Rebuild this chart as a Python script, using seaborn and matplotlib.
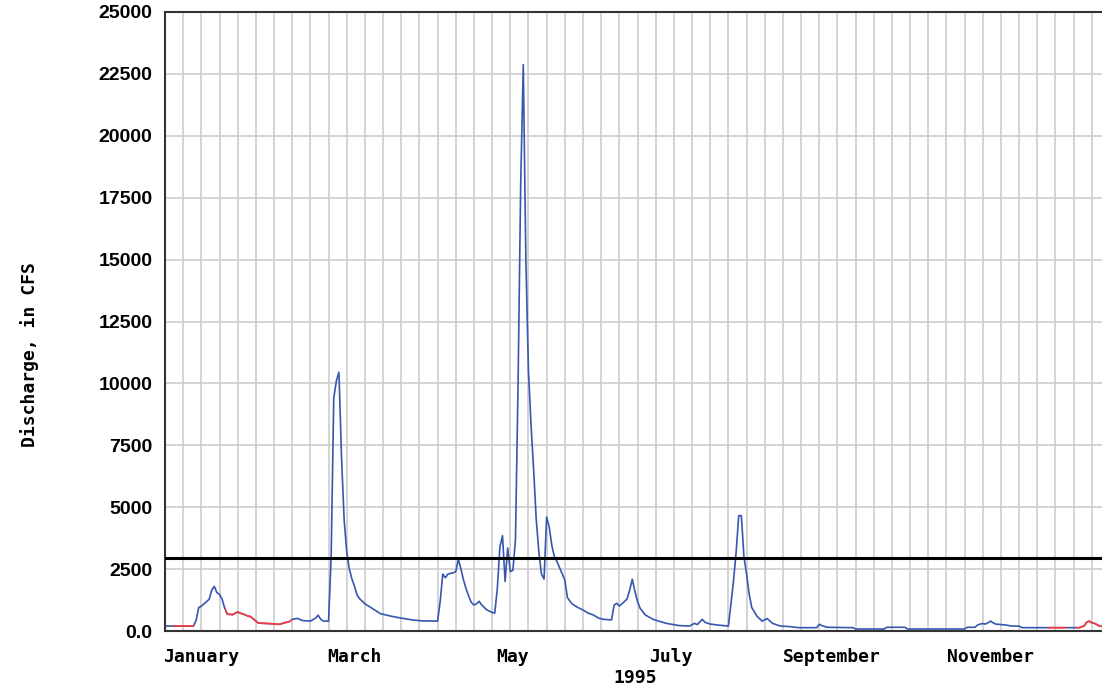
import pandas as pd
import seaborn as sns
import matplotlib.pyplot as plt
import matplotlib.dates as mdates
from matplotlib.patches import Rectangle

# daily discharge (breakpoints, CFS)
dates = [
    "1995-01-01", "1995-01-04", "1995-01-12", "1995-01-13", "1995-01-14", "1995-01-15",
    "1995-01-17", "1995-01-18", "1995-01-19", "1995-01-20", "1995-01-21", "1995-01-22",
    "1995-01-23", "1995-01-24", "1995-01-25", "1995-01-27", "1995-01-29", "1995-01-30",
    "1995-02-01", "1995-02-02", "1995-02-03", "1995-02-05", "1995-02-06", "1995-02-10",
    "1995-02-14", "1995-02-16", "1995-02-18", "1995-02-19", "1995-02-21", "1995-02-23",
    "1995-02-26", "1995-02-28", "1995-03-01", "1995-03-02", "1995-03-03", "1995-03-05",
    "1995-03-06", "1995-03-07", "1995-03-08", "1995-03-09", "1995-03-10", "1995-03-11",
    "1995-03-12", "1995-03-13", "1995-03-14", "1995-03-15", "1995-03-16", "1995-03-17",
    "1995-03-19", "1995-03-22", "1995-03-25", "1995-03-29", "1995-04-02", "1995-04-06",
    "1995-04-10", "1995-04-16", "1995-04-17", "1995-04-18", "1995-04-19", "1995-04-20",
    "1995-04-22", "1995-04-23", "1995-04-24", "1995-04-25", "1995-04-26", "1995-04-27",
    "1995-04-28", "1995-04-29", "1995-04-30", "1995-05-01", "1995-05-02", "1995-05-03",
    "1995-05-04", "1995-05-05", "1995-05-06", "1995-05-07", "1995-05-08", "1995-05-09",
    "1995-05-10", "1995-05-11", "1995-05-12", "1995-05-13", "1995-05-14", "1995-05-15",
    "1995-05-16", "1995-05-17", "1995-05-18", "1995-05-19", "1995-05-20", "1995-05-21",
    "1995-05-22", "1995-05-23", "1995-05-24", "1995-05-25", "1995-05-26", "1995-05-27",
    "1995-05-28", "1995-05-29", "1995-05-30", "1995-05-31", "1995-06-01", "1995-06-02",
    "1995-06-03", "1995-06-04", "1995-06-05", "1995-06-06", "1995-06-07", "1995-06-09",
    "1995-06-11", "1995-06-13", "1995-06-15", "1995-06-17", "1995-06-19", "1995-06-22",
    "1995-06-23", "1995-06-24", "1995-06-25", "1995-06-26", "1995-06-27", "1995-06-28",
    "1995-06-29", "1995-06-30", "1995-07-01", "1995-07-02", "1995-07-03", "1995-07-05",
    "1995-07-08", "1995-07-13", "1995-07-18", "1995-07-22", "1995-07-24", "1995-07-25",
    "1995-07-27", "1995-07-28", "1995-07-30", "1995-08-02", "1995-08-06", "1995-08-07",
    "1995-08-08", "1995-08-09", "1995-08-10", "1995-08-11", "1995-08-12", "1995-08-13",
    "1995-08-14", "1995-08-15", "1995-08-17", "1995-08-19", "1995-08-21", "1995-08-23",
    "1995-08-26", "1995-08-30", "1995-09-02", "1995-09-09", "1995-09-10", "1995-09-11",
    "1995-09-13", "1995-09-23", "1995-09-24", "1995-10-05", "1995-10-06", "1995-10-13",
    "1995-10-14", "1995-11-05", "1995-11-06", "1995-11-09", "1995-11-10", "1995-11-11",
    "1995-11-12", "1995-11-13", "1995-11-14", "1995-11-15", "1995-11-16", "1995-11-17",
    "1995-11-19", "1995-11-21", "1995-11-23", "1995-11-26", "1995-11-27", "1995-12-18",
    "1995-12-19", "1995-12-21", "1995-12-22", "1995-12-23", "1995-12-24", "1995-12-25",
    "1995-12-27", "1995-12-29", "1995-12-31",
]
discharge = [
    200, 200, 200, 440, 950, 1000,
    1190, 1280, 1650, 1800, 1550, 1480,
    1280, 920, 680, 660, 770, 720,
    650, 600, 580, 400, 320, 300,
    270, 330, 380, 470, 510, 420,
    400, 520, 640, 470, 400, 400,
    3000, 9400, 10100, 10450, 7000, 4500,
    3200, 2500, 2100, 1800, 1450, 1300,
    1100, 900, 700, 600, 520, 450,
    410, 400, 1200, 2300, 2150, 2300,
    2350, 2400, 2900, 2500, 2050, 1700,
    1400, 1150, 1050, 1100, 1200, 1050,
    950, 850, 800, 750, 720, 1700,
    3400, 3850, 2000, 3350, 2400, 2450,
    3700, 10000, 18000, 22870, 15000, 10500,
    8300, 6500, 4500, 3200, 2300, 2100,
    4600, 4200, 3450, 3000, 2800, 2550,
    2300, 2060, 1350, 1200, 1080, 950,
    850, 720, 650, 520, 470, 450,
    1050, 1120, 1010, 1100, 1190, 1300,
    1660, 2090, 1600, 1200, 920, 650,
    470, 310, 220, 200, 310, 260,
    470, 350, 280, 240, 200, 1100,
    2050, 3200, 4660, 4660, 3000, 2300,
    1500, 950, 600, 400, 500, 310,
    200, 175, 135, 135, 270, 220,
    150, 135, 80, 80, 150, 150,
    80, 80, 150, 150, 240, 280,
    300, 280, 330, 400, 330, 280,
    260, 240, 200, 200, 135, 135,
    130, 200, 350, 400, 330, 310,
    200, 170, 170,
]

# stretches drawn in red (estimated / ice-affected record)
red_periods = [
    ("1995-01-04", "1995-01-12"),
    ("1995-01-24", "1995-02-19"),
    ("1995-12-07", "1995-12-14"),
    ("1995-12-18", "1995-12-31"),
]

threshold = 2950

month_labels = ["January", "March", "May", "July", "September", "November"]
label_dates = ["1995-01-15", "1995-03-15", "1995-05-15", "1995-07-15", "1995-09-15", "1995-11-15"]
y_ticks = list(range(0, 25001, 2500))

df = pd.DataFrame({"date": pd.to_datetime(dates), "cfs": discharge})

blue = "#3656b0"
red = "#ff3b3b"
grid_col = "#cdcdcd"
spine_col = "#333333"

sns.set_style("white")
fig = plt.figure(figsize=(11.02, 6.95), dpi=100)
ax = fig.add_axes([165 / 1102, 1 - 631 / 695, 945 / 1102, 619 / 695])

# weekly vertical grid, horizontal grid every 2500
for d in pd.date_range("1995-01-01", "1995-12-31", freq="7D"):
    ax.axvline(d, color=grid_col, lw=1.2, zorder=0)
ax.yaxis.grid(True, color=grid_col, lw=1.2)
ax.set_axisbelow(True)

sns.lineplot(data=df, x="date", y="cfs", ax=ax, color=blue, lw=1.2)
for start, end in red_periods:
    sns.lineplot(data=df, x="date", y="cfs", ax=ax, color=red, lw=1.2)
    x0 = mdates.date2num(pd.Timestamp(start))
    x1 = mdates.date2num(pd.Timestamp(end))
    rect = Rectangle((x0, -5000), x1 - x0, 40000, transform=ax.transData)
    ax.lines[-1].set_clip_path(rect)

ax.axhline(threshold, color="black", lw=2.2, zorder=5)

ax.set_xlim(pd.Timestamp("1995-01-01"), pd.Timestamp("1995-12-31"))
ax.set_ylim(0, 25000)

ax.xaxis.set_minor_locator(mdates.MonthLocator(bymonth=range(2, 13)))
ax.set_xticks(pd.to_datetime(label_dates))
ax.set_xticklabels(month_labels, fontfamily="DejaVu Sans Mono", fontweight="bold",
                   fontsize=13, color="black")
ax.tick_params(axis="x", which="major", length=0, pad=12)
ax.tick_params(axis="x", which="minor", length=4, width=1.2, color=spine_col, direction="out")

ax.set_yticks(y_ticks)
ax.set_yticklabels(["0.0"] + [str(v) for v in y_ticks[1:]],
                   fontfamily="Liberation Sans", fontweight="bold", fontsize=14, color="black")
ax.tick_params(axis="y", length=0, pad=9)

ax.set_xlabel("1995", fontfamily="DejaVu Sans Mono", fontweight="bold", fontsize=13, color="black")
ax.xaxis.set_label_coords(0.498, -0.062)
ax.set_ylabel("Discharge, in CFS", fontfamily="DejaVu Sans Mono", fontweight="bold",
              fontsize=13, color="black")
ax.yaxis.set_label_coords(-0.133, 0.446)

ax.spines["right"].set_visible(False)
for s in ["left", "top", "bottom"]:
    ax.spines[s].set_color(spine_col)
    ax.spines[s].set_linewidth(1.5)

fig.savefig("out.png", dpi=100)
